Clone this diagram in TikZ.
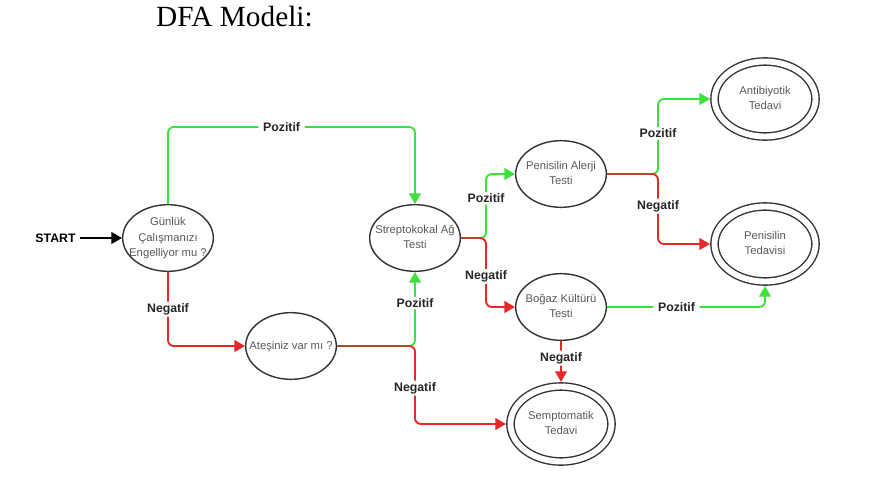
\documentclass[tikz,border=0pt]{standalone}
\usepackage{fontspec}
\setmainfont{Liberation Serif}
\setsansfont{Liberation Sans}
\usetikzlibrary{automata}
\usetikzlibrary{arrows.meta}
\usetikzlibrary{positioning}
\usetikzlibrary{shapes.geometric}

\definecolor{yesil}{RGB}{60,225,60}
\definecolor{kirmizi}{RGB}{232,40,40}
\definecolor{kahve}{RGB}{178,74,42}
\newcommand{\stext}[1]{\makebox[0pt]{\begin{tabular}{@{}c@{}}#1\end{tabular}}}

\begin{document}
\begin{tikzpicture}[>={Triangle[length=9pt,width=10pt]}, on grid,
    initial text={\sffamily\bfseries\fontsize{10.5}{12}\selectfont START},
    initial where=left, initial distance=1.25cm]
		 \tikzstyle{every state} = [ellipse, draw=black!80, line width=1.2pt, text=black!65,
		     font=\sffamily\fontsize{9.6}{13}\selectfont, inner sep=0pt,
		     minimum width=2.72cm, minimum height=2.0cm];
		 \tikzstyle{final} = [accepting, double distance=5pt, outer sep=3.9pt,
		     minimum width=3.03cm, minimum height=2.25cm];
		 \tikzstyle{every initial by arrow} = [->, line width=1.4pt, black];
		 \tikzstyle{pozitif} = [->, line width=1.6pt, yesil, rounded corners=5pt];
		 \tikzstyle{negatif} = [->, line width=1.6pt, kirmizi, rounded corners=5pt];
		 \tikzstyle{ortak} = [line width=1.6pt, kahve, shorten >=5pt];
		 \tikzstyle{etiket} = [fill=white, text=black!85, inner xsep=4pt, inner ysep=1.5pt,
		     font=\sffamily\bfseries\fontsize{10.5}{12}\selectfont];

		 \useasboundingbox (0,0) rectangle (26.67,-14.31);

		 \node [anchor=base west, inner sep=0pt, font=\fontsize{25}{29}\selectfont] (baslik) at (4.68,-0.8) {DFA Modeli:};

		 \node [state, initial]   (q_0) at (5.04,-7.14)                       {\stext{Günlük\\Çalışmanızı\\Engelliyor mu ?}};
		 \node [state]            (q_2) [right=7.41cm of q_0]                {\stext{Streptokokal Ağ\\Testi}};
		 \node [state]            (q_1) [below right=3.24cm and 3.69cm of q_0] {\stext{Ateşiniz var mı ?}};
		 \node [state]            (q_3) [above right=1.92cm and 4.38cm of q_2] {\stext{Penisilin Alerji\\Testi}};
		 \node [state]            (q_4) [below=3.99cm of q_3]                {\stext{Boğaz Kültürü\\Testi}};
		 \node [state, final]     (q_5) [above right=2.25cm and 6.12cm of q_3] {\stext{Antibiyotik\\Tedavi}};
		 \node [state, final]     (q_6) [below=4.35cm of q_5]                {\stext{Penisilin\\Tedavisi}};
		 \node [state, final]     (q_7) [below=3.51cm of q_4]                {\stext{Semptomatik\\Tedavi}};

		 \coordinate (j_1) at (q_1.east -| q_2.south);
		 \coordinate (j_2) at ([xshift=0.75cm]q_2.east);
		 \coordinate (j_3) at ([xshift=1.53cm]q_3.east);

		 \draw [pozitif] (q_0.north) |- node [etiket, pos=0.73] {Pozitif} ([yshift=2.31cm]q_2.north) -- (q_2.north);
		 \draw [negatif] (q_0.south) |- node [etiket, pos=0.25] {Negatif} (q_1.west);

		 \draw [pozitif] (q_1.east) -- (j_1) -- node [etiket, pos=0.58] {Pozitif} (q_2.south);
		 \draw [negatif] (q_1.east) -- (j_1) |- node [etiket, pos=0.27] {Negatif} (q_7.west);
		 \draw [ortak]   (q_1.east) -- (j_1);

		 \draw [pozitif] (q_2.east) -- (j_2) |- node [etiket, pos=0.31] {Pozitif} (q_3.west);
		 \draw [negatif] (q_2.east) -- (j_2) |- node [etiket, pos=0.28] {Negatif} (q_4.west);
		 \draw [ortak]   (q_2.east) -- (j_2);

		 \draw [pozitif] (q_3.east) -- (j_3) |- node [etiket, pos=0.27] {Pozitif} (q_5.west);
		 \draw [negatif] (q_3.east) -- (j_3) |- node [etiket, pos=0.23] {Negatif} (q_6.west);
		 \draw [ortak]   (q_3.east) -- (j_3);

		 \draw [pozitif] (q_4.east) -| node [etiket, pos=0.22] {Pozitif} (q_6.south);
		 \draw [negatif] (q_4.south) -- node [etiket, pos=0.42] {Negatif} (q_7.north);
\end{tikzpicture}
\end{document}
